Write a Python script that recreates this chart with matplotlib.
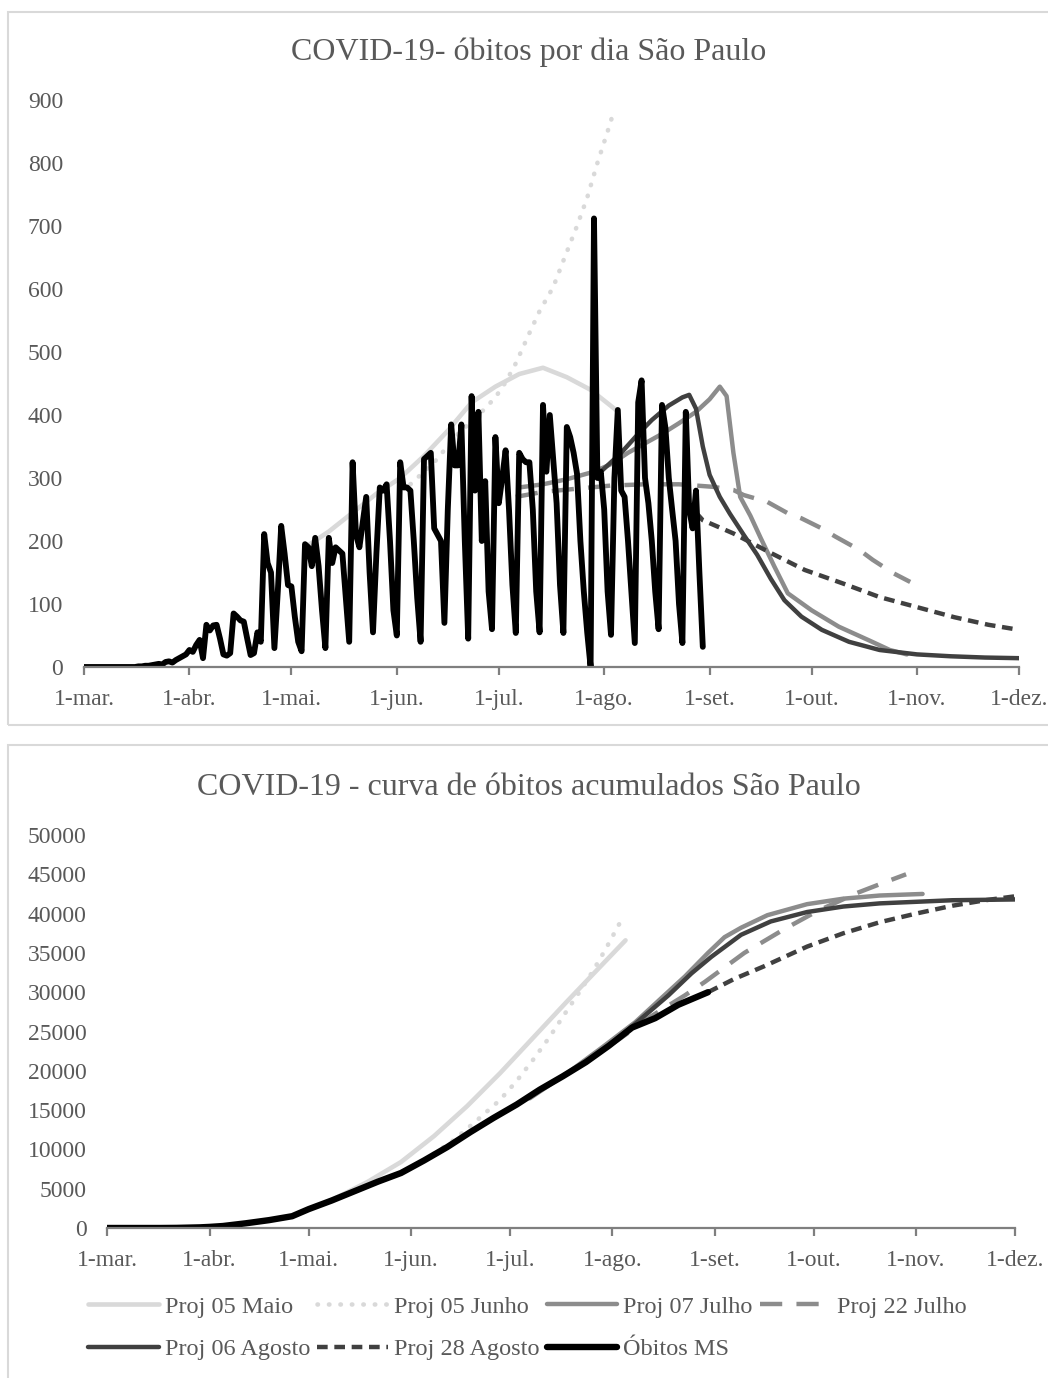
import numpy as np
import pandas as pd
import matplotlib
matplotlib.use("Agg")
import matplotlib.pyplot as plt
from matplotlib.patches import Rectangle

plt.rcParams['font.family'] = ['Liberation Serif', 'DejaVu Serif']

# --- daily deaths reported (Óbitos MS), starting 1-mar-2020 ---
obitos_dia = [
    0, 0, 0, 0, 0, 0, 0, 0, 0, 0, 0, 0, 0, 0, 0, 0,
    1, 1, 2, 2, 3, 4, 5, 4, 8, 9, 7, 11, 14, 17, 20, 27, 24, 35, 43, 14,
    67, 58, 66, 67, 45, 20, 18, 22, 85, 80, 74, 72, 45, 19, 22, 55, 40,
    211, 165, 150, 30, 120, 224, 180, 130, 128, 80, 40, 25,
    195, 190, 160, 205, 160, 90, 30,
    205, 165, 190, 185, 180, 110, 40,
    325, 210, 190, 230, 270, 150, 55,
    180, 285, 280, 290, 200, 90, 50,
    325, 285, 285, 280, 200, 110, 40,
    330, 335, 340, 220, 210, 200, 70,
    250, 385, 320, 320, 385, 200, 45,
    430, 280, 405, 200, 295, 120, 60,
    365, 260, 300, 344, 250, 130, 54,
    340, 330, 325, 325, 250, 120, 55,
    416, 310, 400, 330, 260, 130, 54,
    381, 365, 340, 307, 200, 120, 55,
    0, 712, 300, 310, 250, 120, 51,
    300, 408, 280, 270, 200, 120, 38,
    420, 455, 300, 260, 200, 120, 60,
    416, 380, 300, 249, 200, 100, 38,
    405, 250, 220, 280, 150, 32,
]
dias = pd.date_range('2020-03-01', periods=len(obitos_dia))

# --- daily projections ---
maio_d = ['2020-05-05', '2020-05-12', '2020-05-19', '2020-05-26', '2020-06-02', '2020-06-09',
          '2020-06-16', '2020-06-23', '2020-06-30', '2020-07-07', '2020-07-14', '2020-07-21',
          '2020-07-28', '2020-08-04', '2020-08-05']
maio_v = [190, 215, 245, 275, 300, 335, 375, 420, 445, 465, 475, 460, 440, 410, 405]

junho_d = ['2020-06-05', '2020-06-12', '2020-06-19', '2020-06-26', '2020-06-30', '2020-07-03',
           '2020-07-06', '2020-07-10', '2020-07-13', '2020-07-17', '2020-07-20', '2020-07-24',
           '2020-07-27', '2020-07-30', '2020-08-02', '2020-08-04']
junho_v = [290, 325, 370, 405, 428, 452, 482, 530, 565, 603, 645, 700, 745, 800, 850, 885]

jul07_d = ['2020-07-07', '2020-07-14', '2020-07-21', '2020-07-29', '2020-08-03', '2020-08-08',
           '2020-08-13', '2020-08-18', '2020-08-23', '2020-08-28', '2020-09-01', '2020-09-04',
           '2020-09-06', '2020-09-08', '2020-09-10', '2020-09-13', '2020-09-16', '2020-09-20',
           '2020-09-24', '2020-10-01', '2020-10-09', '2020-10-18', '2020-10-24', '2020-10-29']
jul07_v = [285, 290, 298, 310, 322, 340, 355, 370, 387, 405, 425, 445, 430, 340, 270, 240,
           205, 160, 117, 90, 64, 42, 27, 20]

jul22_d = ['2020-07-06', '2020-07-14', '2020-07-24', '2020-08-03', '2020-08-13', '2020-08-23',
           '2020-09-02', '2020-09-08', '2020-09-11', '2020-09-18', '2020-09-24', '2020-09-28',
           '2020-10-04', '2020-10-08', '2020-10-15', '2020-10-19', '2020-10-25', '2020-10-30']
jul22_v = [270, 278, 283, 288, 290, 290, 286, 281, 273, 262, 244, 236, 220, 207, 186, 170, 149, 135]

ago06_d = ['2020-07-31', '2020-08-06', '2020-08-11', '2020-08-15', '2020-08-20', '2020-08-24',
           '2020-08-26', '2020-08-28', '2020-08-30', '2020-09-01', '2020-09-04', '2020-09-07',
           '2020-09-11', '2020-09-15', '2020-09-19', '2020-09-23', '2020-09-28', '2020-10-04',
           '2020-10-12', '2020-10-21', '2020-11-01', '2020-11-11', '2020-11-21', '2020-12-01']
ago06_v = [310, 340, 370, 392, 415, 428, 432, 410, 350, 305, 270, 243, 210, 178, 140, 106, 80, 59,
           40, 27, 20, 17, 15, 14]

ago28_d = ['2020-08-28', '2020-08-30', '2020-09-08', '2020-09-19', '2020-09-29', '2020-10-10',
           '2020-10-21', '2020-11-01', '2020-11-12', '2020-11-22', '2020-12-01']
ago28_v = [245, 233, 212, 181, 154, 133, 111, 95, 79, 67, 59]

# --- cumulative deaths ---
acum_d = ['2020-03-01', '2020-03-17', '2020-03-22', '2020-03-29', '2020-04-01', '2020-04-05',
          '2020-04-12', '2020-04-19', '2020-04-26', '2020-05-01', '2020-05-08', '2020-05-15',
          '2020-05-22', '2020-05-29', '2020-06-05', '2020-06-12', '2020-06-19', '2020-06-26',
          '2020-07-03', '2020-07-10', '2020-07-17', '2020-07-24', '2020-07-31', '2020-08-07',
          '2020-08-14', '2020-08-21', '2020-08-30']
acum_v = [0, 0, 15, 80, 140, 250, 600, 1000, 1500, 2400, 3500, 4700, 5900, 7000, 8600, 10300,
          12200, 14000, 15700, 17600, 19300, 21100, 23200, 25500, 26700, 28400, 30000]

maio_c_d = ['2020-05-05', '2020-05-12', '2020-05-19', '2020-05-29', '2020-06-08', '2020-06-18',
            '2020-06-28', '2020-07-08', '2020-07-18', '2020-07-28', '2020-08-05']
maio_c_v = [3000, 4400, 5900, 8400, 11700, 15500, 19700, 24200, 28700, 33100, 36600]

junho_c_d = ['2020-06-05', '2020-06-14', '2020-06-21', '2020-06-28', '2020-07-03', '2020-07-08',
             '2020-07-13', '2020-07-18', '2020-07-22', '2020-07-26', '2020-07-30', '2020-08-03',
             '2020-08-04']
junho_c_v = [8600, 11200, 13700, 16300, 18700, 21400, 24300, 27500, 30000, 32600, 35500, 38600, 39300]

jul07_c_d = ['2020-07-07', '2020-07-19', '2020-07-29', '2020-08-08', '2020-08-16', '2020-08-23',
             '2020-08-30', '2020-09-04', '2020-09-09', '2020-09-17', '2020-09-29', '2020-10-10',
             '2020-10-21', '2020-11-03']
jul07_c_v = [16500, 19900, 23000, 26200, 29300, 32000, 35000, 37000, 38200, 39800, 41200, 41900,
             42300, 42500]

jul22_c_d = ['2020-07-22', '2020-08-03', '2020-08-13', '2020-08-23', '2020-08-29', '2020-09-10',
             '2020-09-22', '2020-10-02', '2020-10-14', '2020-10-22', '2020-10-29']
jul22_c_v = [20700, 24000, 27000, 29600, 31300, 35000, 38000, 40300, 42600, 43900, 45000]

ago06_c_d = ['2020-07-31', '2020-08-08', '2020-08-18', '2020-08-25', '2020-08-31', '2020-09-09',
             '2020-09-18', '2020-09-29', '2020-10-10', '2020-10-21', '2020-11-12', '2020-12-01']
ago06_c_v = [23200, 26000, 29600, 32400, 34500, 37300, 39000, 40200, 40900, 41300, 41700, 41800]

ago28_c_d = ['2020-08-30', '2020-09-07', '2020-09-16', '2020-09-29', '2020-10-10', '2020-10-21',
             '2020-11-01', '2020-11-12', '2020-11-22', '2020-12-01']
ago28_c_v = [30000, 31700, 33300, 35800, 37500, 38900, 40000, 41000, 41700, 42200]

meses = pd.date_range('2020-03-01', '2020-12-01', freq='MS')
mes_labels = ['1-mar.', '1-abr.', '1-mai.', '1-jun.', '1-jul.', '1-ago.',
              '1-set.', '1-out.', '1-nov.', '1-dez.']

txt = '#595959'
c_light, c_mid, c_dark = '#d9d9d9', '#8c8c8c', '#404040'

W, H = 1048, 1378
fig = plt.figure(figsize=(W / 100, H / 100), dpi=100)

# chart frames
fig.add_artist(Rectangle((8 / W, 1 - 725 / H), 1.2, (725 - 12) / H, transform=fig.transFigure,
                         fill=False, ec='#d9d9d9', lw=1.5))
fig.add_artist(Rectangle((8 / W, -0.1), 1.2, 1 - 745 / H + 0.1, transform=fig.transFigure,
                         fill=False, ec='#d9d9d9', lw=1.5))

ax1 = fig.add_axes([84 / W, 1 - 667 / H, (1019 - 84) / W, 567 / H])
ax2 = fig.add_axes([107.3 / W, 1 - 1228 / H, (1015 - 107.3) / W, 393 / H])


def d(lst):
    return pd.to_datetime(lst)


dot = (0, (0.1, 2.4))
long_dash = (0, (5, 3.2))
short_dash = (0, (2.4, 1.5))

for ax, series in [
    (ax1, [(maio_d, maio_v), (junho_d, junho_v), (jul07_d, jul07_v), (jul22_d, jul22_v),
           (ago06_d, ago06_v), (ago28_d, ago28_v)]),
    (ax2, [(maio_c_d, maio_c_v), (junho_c_d, junho_c_v), (jul07_c_d, jul07_c_v),
           (jul22_c_d, jul22_c_v), (ago06_c_d, ago06_c_v), (ago28_c_d, ago28_c_v)]),
]:
    styles = [
        dict(color=c_light, lw=3.3, ls='-', label='Proj 05 Maio'),
        dict(color=c_light, lw=3.3, ls=dot, dash_capstyle='round', label='Proj 05 Junho'),
        dict(color=c_mid, lw=3.2, ls='-', label='Proj 07 Julho'),
        dict(color=c_mid, lw=3.2, ls=long_dash, label='Proj 22 Julho'),
        dict(color=c_dark, lw=3.2, ls='-', label='Proj 06 Agosto'),
        dict(color=c_dark, lw=3.2, ls=short_dash, label='Proj 28 Agosto'),
    ]
    for (xd, yv), st in zip(series, styles):
        ax.plot(d(xd), yv, solid_capstyle='round', solid_joinstyle='round', **st)

ax1.plot(dias, obitos_dia, color='black', lw=4.2, solid_joinstyle='round',
         solid_capstyle='round', label='Óbitos MS')
ax2.plot(d(acum_d), acum_v, color='black', lw=4.6, solid_joinstyle='round',
         solid_capstyle='round', label='Óbitos MS')

for ax, ymax, step in [(ax1, 900, 100), (ax2, 50000, 5000)]:
    ax.set_xlim(meses[0], meses[-1])
    ax.set_ylim(0, ymax)
    ax.set_yticks(np.arange(0, ymax + 1, step))
    ax.set_xticks(meses)
    ax.set_xticklabels(mes_labels)
    for s in ['top', 'right', 'left']:
        ax.spines[s].set_visible(False)
    ax.spines['bottom'].set_color('#7f7f7f')
    ax.spines['bottom'].set_linewidth(1.6)
    ax.tick_params(axis='x', length=6, width=1.6, color='#7f7f7f', direction='out',
                   labelsize=17, labelcolor=txt, pad=10)
    ax.tick_params(axis='y', length=0, labelsize=17, labelcolor=txt, pad=15)
    ax.patch.set_alpha(0)

fig.text(529 / W, 1 - 52 / H, 'COVID-19- óbitos por dia São Paulo', ha='center', va='center',
         fontsize=23, color=txt)
fig.text(529 / W, 1 - 788 / H, 'COVID-19 - curva de óbitos acumulados São Paulo', ha='center',
         va='center', fontsize=23, color=txt)

h, l = ax2.get_legend_handles_labels()
order = [0, 4, 1, 5, 2, 6, 3]
fig.legend([h[i] for i in order], [l[i] for i in order], loc='center left',
           bbox_to_anchor=(76 / W, 1 - 1328 / H), ncol=4, frameon=False, fontsize=17.5,
           labelcolor=txt, handlelength=2.9, handletextpad=0.25, columnspacing=0.3,
           labelspacing=0.85, borderpad=0)

fig.savefig('out.png', dpi=100)
